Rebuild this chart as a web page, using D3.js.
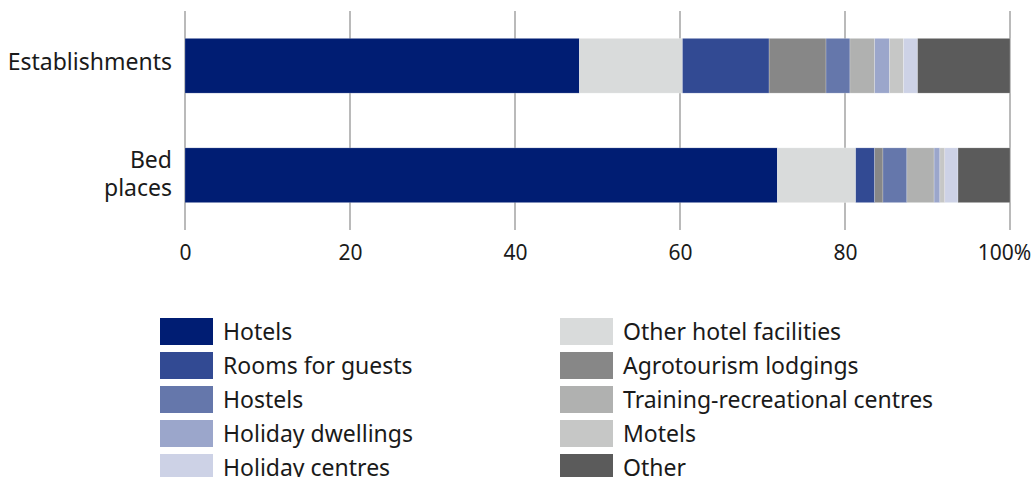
<!DOCTYPE html>
<html>
<head>
<meta charset="utf-8">
<script src="https://cdn.jsdelivr.net/npm/d3@7"></script>
<style>
  body { margin: 0; background: #fff; }
  svg { display: block; font-family: "Noto Sans", sans-serif; }
</style>
</head>
<body>
<div id="chart"></div>
<script>
// categories and series (stack order = legend read row by row)
const categories = ['Establishments', 'Bed places'];
const series = ['Hotels', 'Other hotel facilities', 'Rooms for guests', 'Agrotourism lodgings',
  'Hostels', 'Training-recreational centres', 'Holiday dwellings', 'Motels', 'Holiday centres', 'Other'];
const establishments = [47.8, 12.5, 10.5, 6.9, 2.9, 3.0, 1.8, 1.7, 1.7, 11.2];
const bedPlaces = [71.8, 9.5, 2.3, 1.0, 2.9, 3.3, 0.7, 0.6, 1.6, 6.3];
const colors = ['#001d73', '#d9dbdb', '#324a93', '#878787', '#6577ab',
  '#b0b1b0', '#9ba6cb', '#c6c7c6', '#cdd2e6', '#5b5b5b'];
const xTicks = [0, 20, 40, 60, 80, 100];

const width = 1035;
const height = 477;
const fontSize = 23;

const table = categories.map((c, i) => {
  const row = {category: c};
  const vals = i === 0 ? establishments : bedPlaces;
  series.forEach((s, j) => row[s] = vals[j]);
  return row;
});

const stacked = d3.stack().keys(series)(table);

const svg = d3.select('#chart')
  .append('svg')
  .attr('width', width)
  .attr('height', height);

const x = d3.scaleLinear()
  .domain([0, 100])
  .range([185, 1010]);

const y = d3.scaleBand()
  .domain(categories)
  .range([11, 230])
  .paddingInner(0.5)
  .paddingOuter(0.25);

const color = d3.scaleOrdinal().domain(series).range(colors);

// gridlines
svg.append('g')
  .selectAll('line')
  .data(xTicks)
  .join('line')
  .attr('x1', d => x(d)).attr('x2', d => x(d))
  .attr('y1', 11).attr('y2', 230)
  .attr('stroke', '#a3a3a3')
  .attr('stroke-width', 1.5);

// bars
svg.append('g')
  .selectAll('g')
  .data(stacked)
  .join('g')
  .attr('fill', d => color(d.key))
  .selectAll('rect')
  .data(d => d)
  .join('rect')
  .attr('x', d => x(d[0]))
  .attr('y', d => y(d.data.category))
  .attr('width', d => x(d[1]) - x(d[0]))
  .attr('height', y.bandwidth())
  .attr('stroke', 'rgba(255,255,255,0.35)')
  .attr('stroke-width', 0.6);

// x axis labels
const xAxis = g => g
  .attr('transform', `translate(0, 245)`)
  .call(d3.axisBottom(x).tickValues(xTicks).tickSize(0).tickPadding(0)
    .tickFormat(d => d === 100 ? '100%' : d))
  .call(g => g.select('.domain').remove())
  .call(g => g.selectAll('text')
    .attr('font-size', '21px')
    .attr('fill', '#1a1a1a')
    .attr('font-family', '"Noto Sans", sans-serif')
    .attr('dx', d => d === 100 ? -6 : 0));
svg.append('g').call(xAxis);

// y labels, one text per line
const yLabels = {'Establishments': ['Establishments'], 'Bed places': ['Bed', 'places']};
const yLines = categories.flatMap(c => yLabels[c].map((l, i) => ({
  category: c, text: l, offset: yLabels[c].length > 1 ? (i === 0 ? -7.5 : 21.2) : 4.4
})));
svg.append('g')
  .selectAll('text')
  .data(yLines)
  .join('text')
  .attr('x', 172)
  .attr('y', d => y(d.category) + y.bandwidth() / 2 + d.offset)
  .attr('text-anchor', 'end')
  .attr('font-size', fontSize + 'px')
  .attr('fill', '#1a1a1a')
  .text(d => d.text);

// legend
const legend = svg.append('g')
  .selectAll('g')
  .data(series)
  .join('g')
  .attr('transform', (d, i) => `translate(${i % 2 === 0 ? 160 : 560}, ${318 + Math.floor(i / 2) * 34})`);
legend.append('rect')
  .attr('width', 53)
  .attr('height', 27)
  .attr('fill', d => color(d));
legend.append('text')
  .attr('x', 63)
  .attr('y', 13.5)
  .attr('dy', '0.38em')
  .attr('font-size', fontSize + 'px')
  .attr('fill', '#1a1a1a')
  .text(d => d);
</script>
</body>
</html>
